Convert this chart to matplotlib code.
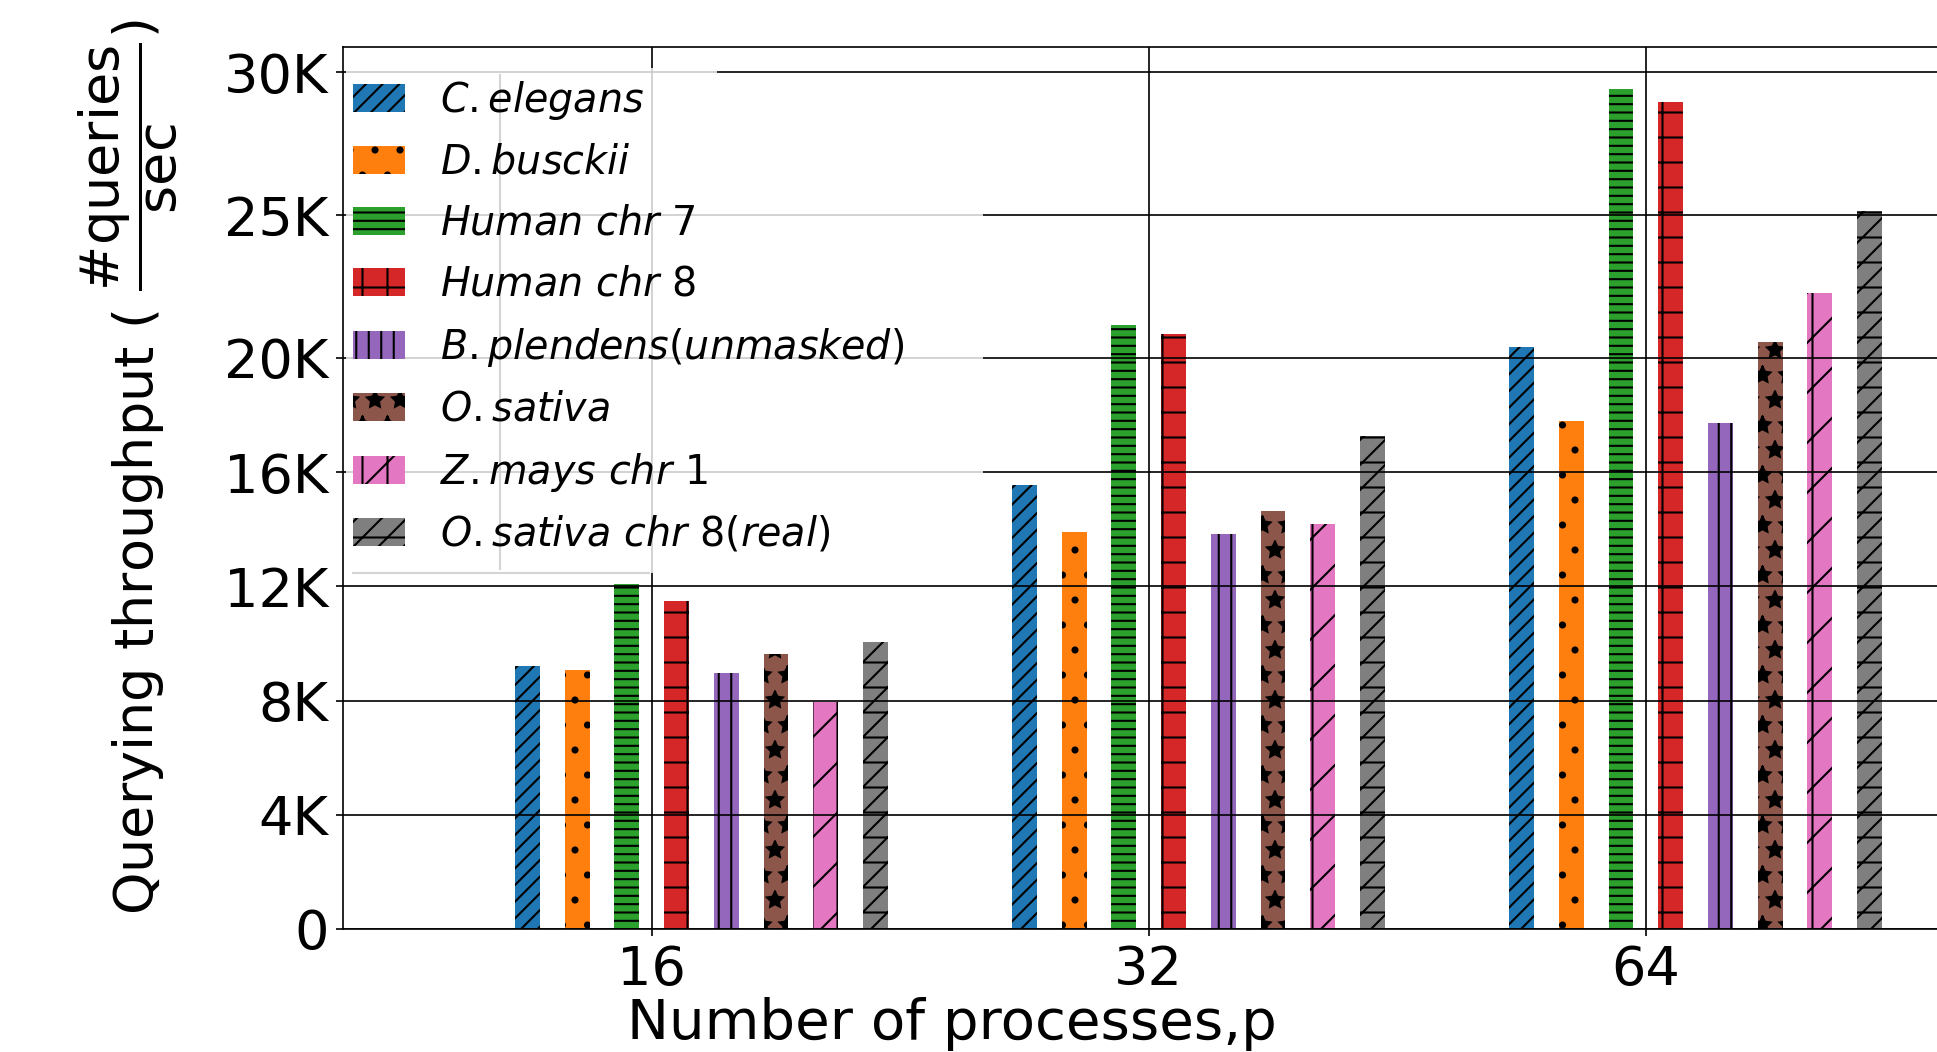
import matplotlib
matplotlib.use("Agg")
import matplotlib.pyplot as plt
import numpy as np
from matplotlib.patches import Rectangle
from matplotlib.lines import Line2D

# ---- data -------------------------------------------------------------
processes = ['16', '32', '64']

dataset_labels = [
    r'$C. elegans$',
    r'$D. busckii$',
    r'$Human\ chr\ 7$',
    r'$Human\ chr\ 8$',
    r'$B. plendens(unmasked)$',
    r'$O. sativa$',
    r'$Z. mays\ chr\ 1$',
    r'$O. sativa\ chr\ 8(real)$',
]

# querying throughput (#queries / sec) for p = 16, 32, 64
c_elegans   = [9200, 15560, 20390]
d_busckii   = [9080, 13900, 17800]
human_chr7  = [12100, 21160, 29420]
human_chr8  = [11480, 20850, 28950]
b_plendens  = [8980, 13840, 17720]
o_sativa    = [9620, 14650, 20570]
z_mays_chr1 = [7940, 14200, 22270]
o_sativa_c8 = [10060, 17250, 25130]

series = [c_elegans, d_busckii, human_chr7, human_chr8,
          b_plendens, o_sativa, z_mays_chr1, o_sativa_c8]

yticks = [0, 4000, 8000, 12000, 16000, 20000, 25000, 30000]
ytick_labels = ['0', '4K', '8K', '12K', '16K', '20K', '25K', '30K']

# ---- styling ----------------------------------------------------------
colors = ['#1f77b4', '#ff7f0e', '#2ca02c', '#d62728',
          '#9467bd', '#8c564b', '#e377c2', '#7f7f7f']
hatches = ['///', '.', '---', '+', '||', '*', '/|', '//-']

plt.rcParams['hatch.color'] = 'black'
plt.rcParams['hatch.linewidth'] = 1.0

DPI = 150
fig = plt.figure(figsize=(1937 / DPI, 1052 / DPI), dpi=DPI)
ax = fig.add_axes([343 / 1937, 123 / 1052, 1611 / 1937, 882 / 1052])

x = np.arange(len(processes))
step = 0.1
width = 0.05

for i, (vals, lab, col, hat) in enumerate(zip(series, dataset_labels, colors, hatches)):
    ax.bar(x + (i - 2.5) * step, vals, width, color=col, hatch=hat,
           edgecolor='black', linewidth=0, label=lab)

ax.set_xlim(-0.621, 2.62)
ax.set_ylim(0, max(max(s) for s in series) * 1.05)

ax.set_xticks(x)
ax.set_xticklabels(processes)
ax.set_yticks(yticks)
ax.set_yticklabels(ytick_labels)
ax.tick_params(labelsize=26)

ax.grid(True, color='black', linewidth=0.8)

ax.set_xlabel('Number of processes,p', fontsize=27)
ax.xaxis.set_label_coords(0.378, -0.077)
ax.set_ylabel(r'Querying throughput ( $\dfrac{\#\mathrm{queries}}{\mathrm{sec}}$)', fontsize=26)
ax.yaxis.set_label_coords(-0.101, 0.524)

# translucent backdrop behind the legend entries
ax.add_patch(Rectangle((0.002, 0.404), 0.395, 0.565, transform=ax.transAxes,
                       facecolor='white', alpha=0.8, edgecolor='none', zorder=2))
ax.add_patch(Rectangle((0.002, 0.969), 0.230, 0.007, transform=ax.transAxes,
                       facecolor='white', alpha=0.8, edgecolor='none', zorder=2))
frame_kw = dict(color='#d4d4d4', linewidth=1.0, transform=ax.transAxes, zorder=2.1)
ax.add_line(Line2D([0.006, 0.190], [0.404, 0.404], **frame_kw))
ax.add_line(Line2D([0.0976, 0.0976], [0.408, 0.968], **frame_kw))

leg = ax.legend(loc='upper left', bbox_to_anchor=(0.0015, 0.973),
                borderaxespad=0, borderpad=0.2, frameon=False,
                fontsize=19, handlelength=1.3, handleheight=0.72,
                handletextpad=0.9, labelspacing=0.53)
leg.set_zorder(5)

fig.savefig('out.png', dpi=DPI)
